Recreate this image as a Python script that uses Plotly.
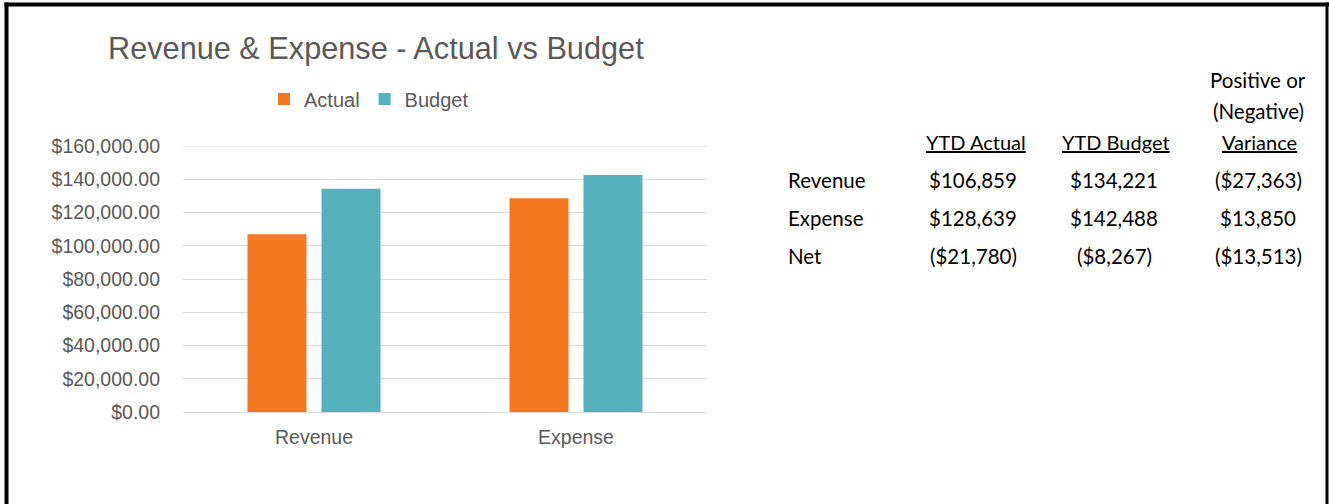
import plotly.graph_objects as go

# ---------------- data ----------------
categories = ["Revenue", "Expense"]
actual_values = [106859, 128639]
budget_values = [134221, 142488]

table_rows = ["Revenue", "Expense", "Net"]
ytd_actual = [106859, 128639, -21780]
ytd_budget = [134221, 142488, -8267]
variance = [-27363, 13850, -13513]
header_top = ["Positive or", "(Negative)"]
headers = ["YTD Actual", "YTD Budget", "Variance"]

y_ticks = [0, 20000, 40000, 60000, 80000, 100000, 120000, 140000, 160000]

# ---------------- layout geometry (pixels) ----------------
FW, FH = 1329, 504
L, R, T, B = 183, 707, 146, 412
PW, PH = R - L, B - T

def px(x):
    return (x - L) / PW

def py(y):
    return (B - y) / PH

ORANGE = "#F47721"
TEAL = "#55B1BC"
GRAY = "#595959"
GRID = "#D9D9D9"
ARIAL = "Liberation Sans, Arial, sans-serif"
CAL = "Lato, Calibri, sans-serif"

fig = go.Figure()
fig.add_trace(go.Bar(name="Actual", x=categories, y=actual_values,
                     marker=dict(color=ORANGE, line=dict(width=0))))
fig.add_trace(go.Bar(name="Budget", x=categories, y=budget_values,
                     marker=dict(color=TEAL, line=dict(width=0))))

def money(v):
    s = "${:,.0f}".format(abs(v))
    return "(" + s + ")" if v < 0 else s

annotations = []
tfont = dict(family=CAL, size=20.5, color="#000000")
var_x = 1258
for txt, yy in zip(header_top, [80, 111]):
    annotations.append(dict(x=px(var_x), y=py(yy), xref="paper", yref="paper",
                            text=txt, showarrow=False, xanchor="center",
                            yanchor="middle", font=tfont))
col_x = [973, 1114, 1258]
head_x = [976, 1116, 1259]
for txt, cx in zip(headers, head_x):
    annotations.append(dict(x=px(cx), y=py(142), xref="paper", yref="paper",
                            text="<u>" + txt + "</u>", showarrow=False,
                            xanchor="center", yanchor="middle",
                            font=dict(family=CAL, size=20, color="#000000")))
row_y = [180, 218, 256]
for i, name in enumerate(table_rows):
    annotations.append(dict(x=px(786), y=py(row_y[i]), xref="paper", yref="paper",
                            text=name, showarrow=False, xanchor="left",
                            yanchor="middle", font=tfont))
    for cx, col in zip(col_x, [ytd_actual, ytd_budget, variance]):
        annotations.append(dict(x=px(cx), y=py(row_y[i]), xref="paper", yref="paper",
                                text=money(col[i]), showarrow=False,
                                xanchor="center", yanchor="middle", font=tfont))

shapes = [
    dict(type="line", xref="paper", yref="y", x0=0, x1=1,
         y0=y_ticks[-1], y1=y_ticks[-1], line=dict(color=GRID, width=1),
         layer="below"),
    dict(type="line", xref="paper", yref="paper", x0=px(6.5), x1=px(6.5),
         y0=py(2.5), y1=py(FH + 5), line=dict(color="black", width=4)),
    dict(type="line", xref="paper", yref="paper", x0=px(4.5), x1=px(1329),
         y0=py(4.5), y1=py(4.5), line=dict(color="black", width=4)),
    dict(type="line", xref="paper", yref="paper", x0=px(1327), x1=px(1327),
         y0=py(2.5), y1=py(FH + 5), line=dict(color="black", width=3)),
]

fig.update_layout(
    width=FW, height=FH,
    margin=dict(l=L, r=FW - R, t=T, b=FH - B, pad=0),
    paper_bgcolor="white", plot_bgcolor="white",
    barmode="group", bargap=0.435, bargroupgap=0.203,
    title=dict(text="Revenue & Expense - Actual vs Budget",
               x=108 / FW, xref="container", xanchor="left",
               y=1 - 48 / FH, yref="container", yanchor="middle",
               font=dict(family=ARIAL, size=30.7, color=GRAY)),
    legend=dict(orientation="h", x=px(264), y=py(99), xanchor="left",
                yanchor="middle", font=dict(family=ARIAL, size=20, color=GRAY),
                bgcolor="rgba(0,0,0,0)", traceorder="normal"),
    annotations=annotations,
    shapes=shapes,
    font=dict(family=ARIAL, color=GRAY),
)
fig.update_yaxes(range=[0, 160000], tickvals=y_ticks, tickformat="$,.2f",
                 showgrid=True, gridcolor=GRID, gridwidth=1, zeroline=False,
                 showline=False, ticks="", ticklabelstandoff=22,
                 tickfont=dict(family=ARIAL, size=19.5, color=GRAY))
fig.update_xaxes(showline=True, linecolor=GRID, linewidth=1, ticks="",
                 ticklabelstandoff=8,
                 tickfont=dict(family=ARIAL, size=19.5, color=GRAY))

fig.write_html("out.html", config={"displayModeBar": False},
               post_script="document.body.style.margin='0';")
